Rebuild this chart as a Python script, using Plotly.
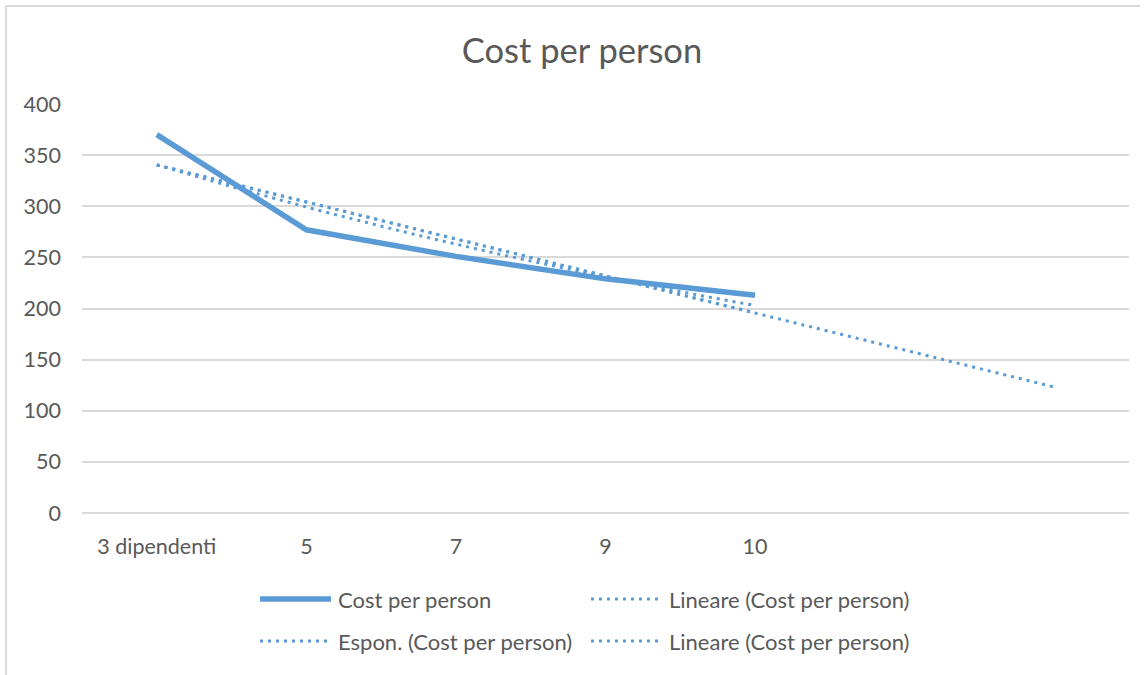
import numpy as np
import plotly.graph_objects as go

# ---- data ----
categories = ["3 dipendenti", "5", "7", "9", "10"]
cost_per_person = [370, 277, 251, 229, 213]
forecast_periods = 2          # the first linear trend is projected two periods ahead
y_ticks = [0, 50, 100, 150, 200, 250, 300, 350, 400]

series_name = "Cost per person"
legend_labels = [
    "Cost per person",
    "Lineare (Cost per person)",
    "Espon. (Cost per person)",
    "Lineare (Cost per person)",
]

# ---- style ----
BLUE = "#5B9BD5"
TEXT = "#595959"
GRID = "#D9D9D9"
FONT = "Lato"
DOT = "3px,5px"

W, H = 1148, 675
L, R, T, B = 82, 19, 104, 162
PW, PH = W - L - R, H - T - B


def px(xp):
    """pixel column -> paper x"""
    return (xp - L) / PW


def py(yp):
    """pixel row -> paper y"""
    return (H - B - yp) / PH


x = np.arange(len(categories), dtype=float)
y = np.array(cost_per_person, dtype=float)

# least-squares trend lines over the observed periods
lin_coef = np.polyfit(x, y, 1)
exp_coef = np.polyfit(x, np.log(y), 1)

x_obs = np.linspace(x[0], x[-1], 80)
x_fc = np.array([x[0], x[-1] + forecast_periods])

lin_forecast = np.polyval(lin_coef, x_fc)
lin_obs = np.polyval(lin_coef, x_obs)
exp_obs = np.exp(np.polyval(exp_coef, x_obs))

fig = go.Figure()

fig.add_trace(go.Scatter(
    x=x, y=y, mode="lines", name=legend_labels[0],
    line=dict(color=BLUE, width=5.5), showlegend=False,
))
fig.add_trace(go.Scatter(
    x=x_fc, y=lin_forecast, mode="lines", name=legend_labels[1],
    line=dict(color=BLUE, width=3, dash=DOT), showlegend=False,
))
fig.add_trace(go.Scatter(
    x=x_obs, y=exp_obs, mode="lines", name=legend_labels[2],
    line=dict(color=BLUE, width=3, dash=DOT), showlegend=False,
))
fig.add_trace(go.Scatter(
    x=x_obs, y=lin_obs, mode="lines", name=legend_labels[3],
    line=dict(color=BLUE, width=3, dash=DOT), showlegend=False,
))

shapes = []
annotations = []

# legend: two columns, two rows
legend_cells = [
    (260, 599, legend_labels[0], None, 5.5),
    (591, 599, legend_labels[1], DOT, 3),
    (260, 641, legend_labels[2], DOT, 3),
    (591, 641, legend_labels[3], DOT, 3),
]
for x0, yy, label, dash, lw in legend_cells:
    ln = dict(color=BLUE, width=lw)
    if dash:
        ln["dash"] = dash
    shapes.append(dict(type="line", xref="paper", yref="paper",
                       x0=px(x0), x1=px(x0 + 71), y0=py(yy), y1=py(yy),
                       line=ln))
    annotations.append(dict(xref="paper", yref="paper", x=px(x0 + 76), y=py(yy),
                            xanchor="left", yanchor="middle", showarrow=False,
                            text=label, font=dict(family=FONT, size=22, color=TEXT)))

# chart frame
shapes.append(dict(type="line", xref="paper", yref="paper",
                   x0=px(6), x1=px(1140), y0=py(6), y1=py(6),
                   line=dict(color=GRID, width=2)))
shapes.append(dict(type="line", xref="paper", yref="paper",
                   x0=px(6), x1=px(6), y0=py(6), y1=py(H + 5),
                   line=dict(color=GRID, width=2)))

fig.update_layout(
    width=W, height=H,
    margin=dict(l=L, r=R, t=T, b=B),
    paper_bgcolor="white", plot_bgcolor="white",
    font=dict(family=FONT, color=TEXT, size=21.5),
    title=dict(text=series_name, x=582 / W, xanchor="center",
               y=1 - 51 / H, yanchor="middle",
               font=dict(family=FONT, size=34.5, color=TEXT)),
    xaxis=dict(range=[-0.5, len(categories) + forecast_periods - 0.5],
               tickmode="array", tickvals=list(x), ticktext=categories,
               showgrid=False, zeroline=False, showline=False, ticks="",
               ticklabelstandoff=18, tickfont=dict(size=21.5, color=TEXT)),
    yaxis=dict(range=[0, 400], tickmode="array", tickvals=y_ticks,
               showgrid=True, gridcolor=GRID, gridwidth=1.5,
               zeroline=True, zerolinecolor=GRID, zerolinewidth=1.5,
               showline=False, ticks="",
               ticklabelstandoff=20, tickfont=dict(size=21.5, color=TEXT)),
    shapes=shapes, annotations=annotations,
    showlegend=False,
)

fig.write_html("out.html")
